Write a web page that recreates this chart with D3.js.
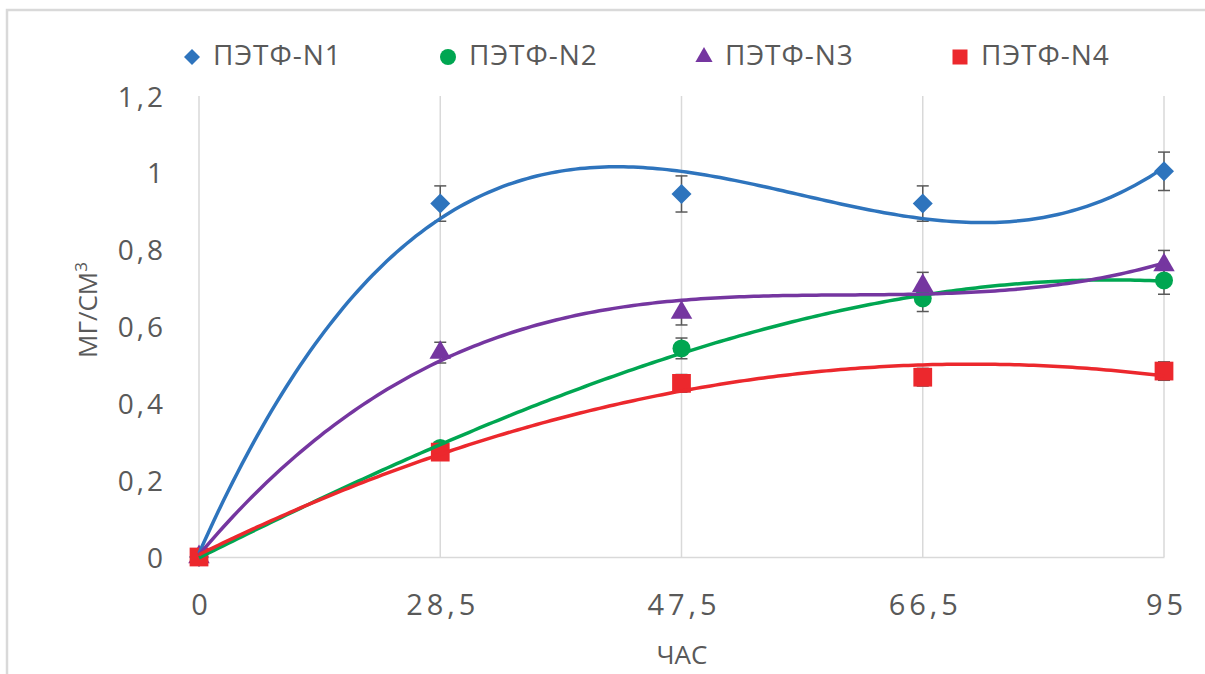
<!DOCTYPE html>
<html>
<head>
<meta charset="utf-8">
<script src="https://cdn.jsdelivr.net/npm/d3@7"></script>
<style>
  body { margin: 0; background: #fff; }
  text { font-family: "Open Sans", "Noto Sans", sans-serif; fill: #595959; }
</style>
</head>
<body>
<svg id="chart" width="1205" height="674"></svg>
<script>
// categories on the x axis (category axis, equally spaced)
const categories = ['0', '28,5', '47,5', '66,5', '95'];
const yTicks = [0, 0.2, 0.4, 0.6, 0.8, 1, 1.2];

const seriesNames = ['ПЭТФ-N1', 'ПЭТФ-N2', 'ПЭТФ-N3', 'ПЭТФ-N4'];
const n1 = [0, 0.92, 0.945, 0.92, 1.004];
const n2 = [0, 0.284, 0.543, 0.673, 0.72];
const n3 = [0, 0.532, 0.636, 0.706, 0.76];
const n4 = [0, 0.273, 0.452, 0.468, 0.484];
// error bar half-lengths
const e1 = [0, 0.046, 0.047, 0.046, 0.05];
const e2 = [0, 0.014, 0.027, 0.034, 0.036];
const e3 = [0, 0.027, 0.032, 0.035, 0.038];
const e4 = [0, 0.014, 0.023, 0.023, 0.024];
// polynomial trendline order per series
const trendOrder = [3, 3, 3, 2];

const values = [n1, n2, n3, n4];
const errors = [e1, e2, e3, e4];
const colors = ['#2E74BD', '#00A651', '#7536A0', '#EC282D'];
const shapes = ['diamond', 'circle', 'triangle', 'square'];

const svg = d3.select('#chart');

// outer chart border
svg.append('rect')
    .attr('x', 7).attr('y', 10)
    .attr('width', 1240).attr('height', 700)
    .attr('fill', '#fff')
    .attr('stroke', '#d9d9d9')
    .attr('stroke-width', 2.5);

const x = d3.scalePoint().domain(categories).range([199, 1164]);
const y = d3.scaleLinear().domain([0, 1.2]).range([557, 96]);
const fmt = d => String(d).replace('.', ',');

// vertical gridlines
svg.append('g')
  .selectAll('line')
  .data(categories)
  .join('line')
    .attr('x1', d => x(d)).attr('x2', d => x(d))
    .attr('y1', y(0)).attr('y2', y(1.2))
    .attr('stroke', '#d9d9d9')
    .attr('stroke-width', 1.5);

// x axis
const xAxis = svg.append('g')
    .attr('transform', `translate(0,${y(0)})`)
    .call(d3.axisBottom(x).tickSize(0).tickPadding(0));
xAxis.select('.domain').attr('stroke', '#d9d9d9').attr('stroke-width', 1.5);
xAxis.selectAll('text')
    .attr('y', 58)
    .attr('dy', 0)
    .attr('dx', 2)
    .style('font-size', '29px')
    .style('letter-spacing', '4px')
    .attr('fill', '#595959');

// y axis
const yAxis = svg.append('g')
    .attr('transform', `translate(163,0)`)
    .call(d3.axisLeft(y).tickValues(yTicks).tickFormat(fmt).tickSize(0).tickPadding(0));
yAxis.select('.domain').remove();
yAxis.selectAll('text')
    .attr('dy', '0.36em')
    .attr('dx', 3)
    .style('font-size', '28px')
    .style('letter-spacing', '3px')
    .attr('fill', '#595959');

// axis titles
svg.append('text')
    .attr('x', 682).attr('y', 664)
    .attr('text-anchor', 'middle')
    .style('font-size', '26px')
    .text('ЧАС');

const yt = svg.append('text')
    .attr('transform', 'translate(97,310) rotate(-90)')
    .attr('text-anchor', 'middle')
    .style('font-size', '26px');
yt.append('tspan').text('МГ/СМ');
yt.append('tspan').attr('dy', -10).style('font-size', '17px').text('3');

function symbolPath(shape, s) {
  if (shape === 'diamond') return d3.symbol(d3.symbolSquare, s * s / 2)();
  if (shape === 'circle') return d3.symbol(d3.symbolCircle, Math.PI * s * s / 4)();
  if (shape === 'triangle') return d3.symbol(d3.symbolTriangle, s * s * 0.5)();
  return d3.symbol(d3.symbolSquare, s * s * 0.88)();
}
const rot = shape => shape === 'diamond' ? ' rotate(45)' : '';

// least squares polynomial fit on category index 1..n
function polyFit(ys, order) {
  const n = order + 1;
  const A = [];
  for (let r = 0; r < n; r++) {
    A.push(new Array(n + 1).fill(0));
    for (let c = 0; c < n; c++) {
      A[r][c] = d3.sum(ys, (v, i) => Math.pow(i + 1, r + c));
    }
    A[r][n] = d3.sum(ys, (v, i) => v * Math.pow(i + 1, r));
  }
  for (let p = 0; p < n; p++) {
    let m = p;
    for (let r = p + 1; r < n; r++) if (Math.abs(A[r][p]) > Math.abs(A[m][p])) m = r;
    [A[p], A[m]] = [A[m], A[p]];
    for (let r = 0; r < n; r++) {
      if (r === p) continue;
      const f = A[r][p] / A[p][p];
      for (let c = p; c <= n; c++) A[r][c] -= f * A[p][c];
    }
  }
  return A.map((row, i) => row[n] / row[i]);
}

const xi = d3.scaleLinear().domain([1, categories.length]).range(x.range());

// error bars
values.forEach((vals, s) => {
  const g = svg.append('g').attr('stroke', '#595959').attr('stroke-width', 1.5);
  vals.forEach((v, i) => {
    const err = errors[s][i];
    if (!err) return;
    const cx = x(categories[i]);
    g.append('line').attr('x1', cx).attr('x2', cx).attr('y1', y(v - err)).attr('y2', y(v + err));
    g.append('line').attr('x1', cx - 6).attr('x2', cx + 6).attr('y1', y(v - err)).attr('y2', y(v - err));
    g.append('line').attr('x1', cx - 6).attr('x2', cx + 6).attr('y1', y(v + err)).attr('y2', y(v + err));
  });
});

// markers
values.forEach((vals, s) => {
  svg.append('g')
    .selectAll('path')
    .data(vals)
    .join('path')
      .attr('transform', (d, i) => `translate(${x(categories[i])},${y(d)})` + rot(shapes[s]))
      .attr('d', symbolPath(shapes[s], shapes[s] === 'circle' ? 18 : 20))
      .attr('fill', colors[s]);
});

// trendlines
values.forEach((vals, s) => {
  const coef = polyFit(vals, trendOrder[s]);
  const xs = d3.range(1, categories.length + 0.001, 0.02);
  const line = d3.line()
      .x(t => xi(t))
      .y(t => y(coef.reduce((acc, c, k) => acc + c * Math.pow(t, k), 0)))
      .curve(d3.curveLinear);
  svg.append('path')
      .datum(xs)
      .attr('fill', 'none')
      .attr('stroke', colors[s])
      .attr('stroke-width', 3.5)
      .attr('d', line);
});

// legend
const legend = svg.append('g');
seriesNames.forEach((name, s) => {
  const lx = 192 + s * 256;
  legend.append('path')
      .attr('transform', `translate(${lx},57)` + rot(shapes[s]))
      .attr('d', symbolPath(shapes[s], 16))
      .attr('fill', colors[s]);
  legend.append('text')
      .attr('x', lx + 21).attr('y', 65)
      .style('font-size', '28px')
      .style('letter-spacing', '1px')
      .text(name);
});
</script>
</body>
</html>
